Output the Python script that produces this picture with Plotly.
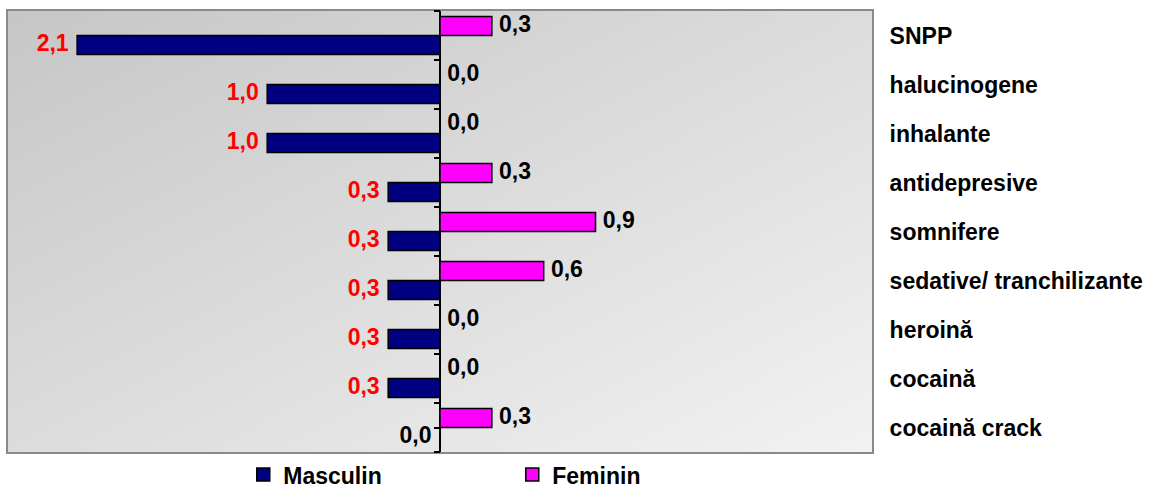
import base64
import plotly.graph_objects as go

# Substance categories, listed top to bottom
categories = [
    "SNPP",
    "halucinogene",
    "inhalante",
    "antidepresive",
    "somnifere",
    "sedative/ tranchilizante",
    "heroină",
    "cocaină",
    "cocaină crack",
]
masculin = [2.1, 1.0, 1.0, 0.3, 0.3, 0.3, 0.3, 0.3, 0.0]
feminin = [0.3, 0.0, 0.0, 0.3, 0.9, 0.6, 0.0, 0.0, 0.3]

FONT = "Liberation Sans, Arial, sans-serif"
FS = 23
MASC_COLOR = "#000080"
FEM_COLOR = "#FF00FF"


def fmt(v):
    return f"{v:.1f}".replace(".", ",")


masc_x = [-v for v in masculin]
masc_colors = ["#FF0000" if v > 0 else "#000000" for v in masculin]

# Diagonal grey gradient used as the plot-area background
svg = (
    "<svg xmlns='http://www.w3.org/2000/svg' width='100' height='100' "
    "preserveAspectRatio='none'><defs><linearGradient id='g' x1='0' y1='0' "
    "x2='1' y2='1'><stop offset='0' stop-color='#c6c6c6'/>"
    "<stop offset='1' stop-color='#f2f2f2'/></linearGradient></defs>"
    "<rect width='100' height='100' fill='url(#g)'/></svg>"
)
bg_uri = "data:image/svg+xml;base64," + base64.b64encode(svg.encode()).decode()

fig = go.Figure()

fig.add_trace(go.Bar(
    name="Feminin", y=categories, x=feminin, orientation="h",
    marker=dict(color=FEM_COLOR, line=dict(color="#000000", width=1.5)),
    showlegend=False, hoverinfo="skip",
))
fig.add_trace(go.Bar(
    name="Masculin", y=categories, x=masc_x, orientation="h",
    marker=dict(color=MASC_COLOR, line=dict(color="#000000", width=1.5)),
    showlegend=False, hoverinfo="skip",
))

# Value labels, grouped alongside the bars (transparent marker sets the gap)
fig.add_trace(go.Scatter(
    y=categories, x=feminin, mode="markers+text", orientation="h",
    marker=dict(size=10, color="rgba(0,0,0,0)"),
    text=[fmt(v) for v in feminin], textposition="middle right",
    textfont=dict(family=FONT, size=FS, color="#000000", weight="bold"),
    showlegend=False, hoverinfo="skip", cliponaxis=False,
))
fig.add_trace(go.Scatter(
    y=categories, x=masc_x, mode="markers+text", orientation="h",
    marker=dict(size=12, color="rgba(0,0,0,0)"),
    text=[fmt(v) for v in masculin], textposition="middle left",
    textfont=dict(family=FONT, size=FS, color=masc_colors, weight="bold"),
    showlegend=False, hoverinfo="skip", cliponaxis=False,
))

# Legend entries with square swatches
for name, color, rank in [("Masculin", MASC_COLOR, 1), ("Feminin", FEM_COLOR, 2)]:
    fig.add_trace(go.Scatter(
        x=[None], y=[None], name=name, mode="markers", legendrank=rank,
        marker=dict(symbol="square", size=13, color=color,
                    line=dict(color="#000000", width=1.5)),
        hoverinfo="skip",
    ))

# Carrier for the tick marks on the central axis
n = len(categories)
boundaries = [i - 0.5 for i in range(n + 1)] + [n - 1]
fig.add_trace(go.Scatter(
    x=[0], y=[0], yaxis="y2", mode="markers", opacity=0,
    showlegend=False, hoverinfo="skip",
))

fig.update_layout(
    width=1155, height=488,
    margin=dict(l=8, r=283, t=11, b=36, autoexpand=False),
    paper_bgcolor="#FFFFFF",
    plot_bgcolor="rgba(0,0,0,0)",
    barmode="group", bargap=0.22, bargroupgap=0,
    scattermode="group", scattergap=0.22,
    font=dict(family=FONT, size=FS, color="#000000"),
    showlegend=True,
    legend=dict(
        orientation="h", x=0.2723, y=-0.1, xanchor="left", yanchor="bottom",
        font=dict(family=FONT, size=FS, color="#000000", weight="bold"),
        bgcolor="rgba(0,0,0,0)", entrywidth=224, entrywidthmode="pixels",
        traceorder="normal", itemsizing="trace", itemwidth=30,
    ),
    xaxis=dict(
        range=[-2.5, 2.5], showticklabels=False, showgrid=False, ticks="",
        zeroline=True, zerolinecolor="#000000", zerolinewidth=2,
        showline=True, mirror=True, linecolor="#8a8a8a", linewidth=2,
        fixedrange=True,
    ),
    yaxis=dict(
        type="category", categoryorder="array", categoryarray=categories,
        range=[n - 0.5, -0.5], side="right", ticks="", showgrid=False,
        ticklabelstandoff=11,
        tickfont=dict(family=FONT, size=FS, color="#000000", weight="bold"),
        showline=True, mirror=True, linecolor="#8a8a8a", linewidth=2,
        fixedrange=True,
    ),
    yaxis2=dict(
        overlaying="y", anchor="free", position=0.5, side="left",
        range=[n - 0.5, -0.5], tickvals=boundaries, ticks="outside",
        ticklen=6, tickwidth=2, tickcolor="#000000", showticklabels=False,
        showgrid=False, zeroline=False, showline=False, fixedrange=True,
    ),
    images=[dict(
        source=bg_uri, xref="paper", yref="paper", x=0, y=1,
        sizex=1, sizey=1, xanchor="left", yanchor="top",
        sizing="stretch", layer="below",
    )],
)

fig.write_html("out.html")
